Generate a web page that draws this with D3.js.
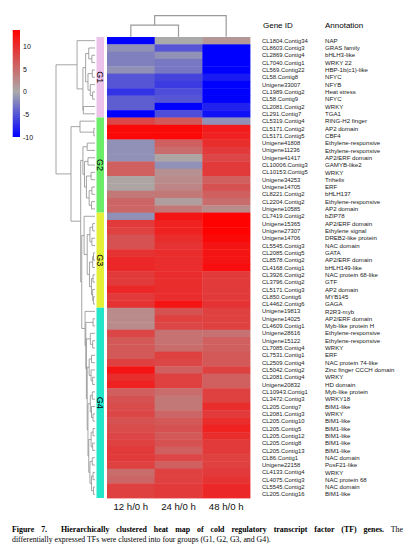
<!DOCTYPE html>
<html>
<head>
<meta charset="utf-8">
<script src="https://cdn.jsdelivr.net/npm/d3@7"></script>
<style>
  body { margin: 0; background: #fff; }
  svg text { font-family: "Liberation Sans", Arial, sans-serif; }
  .caption text { font-family: "Liberation Serif", "Times New Roman", serif; }
</style>
</head>
<body>
<div class="canvas"></div>
<script>
// ---- data ----
const geneIds = [
  "CL1804.Contig34","CL8603.Contig3","CL2869.Contig4","CL7040.Contig1","CL569.Contig22","CL58.Contig8",
  "Unigene33007","CL1989.Contig2","CL58.Contig9","CL2081.Contig2","CL291.Contig7",
  "CL5319.Contig4","CL5171.Contig2","CL5171.Contig5","Unigene41808","Unigene11236","Unigene41417",
  "CL10006.Contig3","CL10153.Contig5","Unigene34253","Unigene14705","CL8221.Contig2","CL2204.Contig2",
  "Unigene10585",
  "CL7419.Contig2","Unigene15365","Unigene27307","Unigene14706","CL5545.Contig3","CL2085.Contig5",
  "CL8578.Contig2","CL4168.Contig1","CL3926.Contig2","CL3796.Contig2","CL5171.Contig3","CL850.Contig6",
  "CL4462.Contig6",
  "Unigene19813","Unigene14025","CL4609.Contig1","Unigene28616","Unigene15122","CL7085.Contig4",
  "CL7531.Contig1","CL2509.Contig4","CL5042.Contig2","CL2081.Contig4","Unigene20832","CL10943.Contig1",
  "CL3472.Contig3","CL205.Contig7","CL2081.Contig3","CL205.Contig10","CL205.Contig5","CL205.Contig12",
  "CL205.Contig8","CL205.Contig13","CL86.Contig1","Unigene22158","CL4133.Contig4","CL4075.Contig3",
  "CL5545.Contig2","CL205.Contig16"
]
const annotations = [
  "NAP","GRAS family","bHLH3-like","WRKY 22","HBP-1b(c1)-like","NFYC",
  "NFYB","Heat stress","NFYC","WRKY","TGA1",
  "RING-H2 finger","AP2 domain","CBF4","Ethylene-responsive","Ethylene-responsive","AP2/ERF domain",
  "GAMYB-like2","WRKY","Trihelix","ERF","bHLH137","Ethylene-responsive",
  "AP2 domain",
  "bZIP78","AP2/ERF domain","Ethylene signal","DREB2-like protein","NAC domain","GATA",
  "AP2/ERF domain","bHLH149-like","NAC protein 68-like","GTF","AP2 domain","MYB145",
  "GAGA",
  "R2R3-myb","AP2/ERF domain","Myb-like protein H","Ethylene-responsive","Ethylene-responsive","WRKY",
  "ERF","NAC protein 74-like","Zinc finger CCCH domain","WRKY","HD domain","Myb-like protein",
  "WRKY18","BIM1-like","WRKY","BIM1-like","BIM1-like","BIM1-like",
  "BIM1-like","BIM1-like","NAC domain","PosF21-like","WRKY","NAC protein 68",
  "NAC domain","BIM1-like"
]
const v12 = [
  -10,-1.5,-2.5,-2.5,-1.5,-5,-5,-7,-4.5,-4.5,-10,
  8,13,13,-1.5,-1.5,-1.5,6,6,0.5,0.5,4,5.5,5.5,
  -1.5,9,8.5,7,7,9.5,10.5,10.5,9,9,10.5,9,9.5,
  2.5,2.5,2.5,8,6.5,6.5,6.5,8.5,12,10,11,6,7,7.5,8,7,7.5,8,8.5,9,9,8.5,5,5.5,8.5,8.5
]
const v24 = [
  0,-5,-1.5,-3,-3,-6,-6.5,-5.5,-5,-10,-5.5,
  6.5,13,13,6,5,0.5,-1.5,2,2.5,3,4,1,4,
  12,11,11,10,9.5,10,10,10,10,10,10,10,12,
  7,8.5,8,4.5,4.5,5,8.5,8,6,8.5,8.5,5,4,4,5.5,6.5,7,6.5,7,6,8,6,8.5,8.5,9,9
]
const v48 = [
  1.5,-10,-10,-10,-10,-8.5,-10,-10,-10,-8,-9,
  -1.5,11.5,11,10,9,8,9,9,6,7,6,5,2.5,
  13.5,13.5,13.5,13,12,12,12,12.5,9,9,9,9,9.5,
  8.5,8.5,8.5,4.5,6,6,6.5,6.5,8.5,6,6,8.5,8.5,10,9,10,11,10,9,9,8.5,8.5,9,9.5,10.5,10.5
]
const colLabels = ["12 h/0 h","24 h/0 h","48 h/0 h"]
const groupNames = ["G1","G2","G3","G4"]
const groupSizes = [11,13,13,26]
const legendTicks = [-10,-5,0,5,10]

// clustering trees: node(height, ...children), numbers are row / column indices
const node = (h, ...c) => ({ h, children: c.map(d => typeof d === "number" ? { i: d } : d) })
const treeG1 = node(4.6, 0, node(3.1,
  node(2.4, node(1.6, 1, node(0.8, 2, 3)), node(1.8, node(0.7, 4, 5), node(1.2, 6, node(0.6, 7, 8)))),
  node(3.0, 9, 10)))
const treeG2a = node(3.85, 11, node(0.3, 12, 13))
const treeG2b = node(3.1, node(2.0, 14, 15),
  node(2.7, node(1.8, 16, 17), node(2.2, node(1.0, 18, 19), node(1.5, node(0.8, 20, 21), node(0.9, 22, 23)))))
const treeG3 = node(2.8, 24, node(2.0,
  node(1.3, node(0.6, 25, 26), node(0.8, 27, 28)),
  node(1.4, node(0.6, node(0.4, 29, 30), 31), node(0.9, node(0.5, 32, 33), node(0.6, 34, node(0.4, 35, 36))))))
const treeG4 = node(2.55, 37, node(2.35, node(0.5, 38, 39), node(2.2,
  node(1.2, 40, node(0.6, 41, 42)),
  node(2.0,
    node(1.5, node(0.9, 43, 44), node(1.0, 45, node(0.6, 46, 47))),
    node(1.8,
      node(1.2, node(0.7, 48, 49), node(0.9, 50, node(0.5, 51, 52))),
      node(1.6,
        node(1.0, node(0.5, 53, 54), node(0.6, 55, 56)),
        node(1.3, node(0.7, 57, 58), node(0.9, node(0.5, 59, 60), node(0.4, 61, 62)))))))))
const rowTree = node(10, treeG1, node(6.15, treeG2a, node(3.67, treeG2b, node(3.4, treeG3, treeG4))))
const colTree = node(1, node(0.55, 0, 1), 2)

// ---- chart ----
const dim = { width: 413, height: 547 }
const svg = d3.select(".canvas").append("svg").attr("width", dim.width).attr("height", dim.height)
svg.append("rect").attr("width", dim.width).attr("height", dim.height).attr("fill", "#fff")

const rows = d3.range(geneIds.length)
const y = d3.scaleBand().domain(rows).range([37, 498])
const x = d3.scaleBand().domain(colLabels).range([107, 250])
const color = d3.scaleLinear().domain([-10, 0, 13.6]).range(["#0000ff", "#aaaaaa", "#ff0000"])

const series = [v12, v24, v48]
const cells = []
series.forEach((vals, c) => vals.forEach((v, r) => cells.push({ r, col: colLabels[c], v })))

svg.append("g").selectAll("rect").data(cells).enter().append("rect")
  .attr("x", d => x(d.col))
  .attr("y", d => y(d.r))
  .attr("width", x.bandwidth() + 0.4)
  .attr("height", y.bandwidth() + 0.4)
  .attr("fill", d => color(d.v))

// group side bar
const groupColors = ["#edc2ea", "#6ced6a", "#e4ef38", "#22e5c9"]
let start = 0
const groups = groupNames.map((g, i) => {
  const d = { name: g, from: start, to: start + groupSizes[i] - 1, color: groupColors[i] }
  start += groupSizes[i]
  return d
})
const gBar = svg.append("g")
gBar.selectAll("rect").data(groups).enter().append("rect")
  .attr("x", 96.5).attr("width", 7.5)
  .attr("y", d => y(d.from))
  .attr("height", d => y(d.to) + y.bandwidth() - y(d.from))
  .attr("fill", d => d.color)
gBar.selectAll("text").data(groups).enter().append("text")
  .attr("transform", d => `translate(100.3,${(y(d.from) + y(d.to) + y.bandwidth()) / 2}) rotate(90)`)
  .attr("text-anchor", "middle").attr("dy", "0.35em")
  .style("font-size", "9px").attr("fill", "#000")
  .text(d => d.name)

// row dendrogram
const hx = d3.scaleLinear().domain([0, 10]).range([95, 56])
const rowRoot = d3.hierarchy(rowTree)
rowRoot.eachAfter(d => {
  if (d.children) {
    d.py = (d.children[0].py + d.children[1].py) / 2
    d.px = hx(d.data.h)
  } else {
    d.py = y(d.data.i) + y.bandwidth() / 2
    d.px = hx(0)
  }
})
svg.append("g").selectAll("path").data(rowRoot.descendants().filter(d => d.children)).enter().append("path")
  .attr("d", d => {
    const [a, b] = d.children
    return `M${a.px},${a.py}H${d.px}V${b.py}H${b.px}`
  })
  .attr("fill", "none").attr("stroke", "#8e8e8e").attr("stroke-width", 0.8)

// column dendrogram
const hy = d3.scaleLinear().domain([0, 1]).range([36.7, 15.7])
const colRoot = d3.hierarchy(colTree)
colRoot.eachAfter(d => {
  if (d.children) {
    d.px = (d.children[0].px + d.children[1].px) / 2
    d.py = hy(d.data.h)
  } else {
    d.px = x(colLabels[d.data.i]) + x.bandwidth() / 2
    d.py = hy(0)
  }
})
svg.append("g").selectAll("path").data(colRoot.descendants().filter(d => d.children)).enter().append("path")
  .attr("d", d => {
    const [a, b] = d.children
    return `M${a.px},${a.py}V${d.py}H${b.px}V${b.py}`
  })
  .attr("fill", "none").attr("stroke", "#9a9a9a").attr("stroke-width", 1.2)

// column labels
svg.append("g").selectAll("text").data(colLabels).enter().append("text")
  .attr("x", d => x(d) + x.bandwidth() / 2).attr("y", 510)
  .attr("text-anchor", "middle").style("font-size", "9.6px").attr("fill", "#111")
  .text(d => d)

// gene id + annotation columns
svg.append("text").attr("x", 263).attr("y", 27.5).style("font-size", "8px").text("Gene ID")
svg.append("text").attr("x", 325).attr("y", 27.5).style("font-size", "8px").text("Annotation")
svg.append("g").selectAll("text").data(rows).enter().append("text")
  .attr("x", 262).attr("y", d => y(d) + y.bandwidth() / 2).attr("dy", "0.35em")
  .style("font-size", "5.9px").attr("fill", "#222")
  .text(d => geneIds[d])
svg.append("g").selectAll("text").data(rows).enter().append("text")
  .attr("x", 325).attr("y", d => y(d) + y.bandwidth() / 2).attr("dy", "0.35em")
  .style("font-size", "6.1px").attr("fill", "#222")
  .text(d => annotations[d])

// colour key
const legendScale = d3.scaleLinear().domain([-10, 13.6]).range([137, 30])
const defs = svg.append("defs")
const grad = defs.append("linearGradient").attr("id", "key").attr("x1", 0).attr("y1", 1).attr("x2", 0).attr("y2", 0)
color.domain().forEach(v => {
  grad.append("stop")
    .attr("offset", (v - (-10)) / (13.6 - (-10)))
    .attr("stop-color", color(v))
})
svg.append("rect").attr("x", 12.7).attr("y", 30).attr("width", 7.3).attr("height", 107).attr("fill", "url(#key)")
const keyAxis = svg.append("g").attr("transform", "translate(20,0)")
  .call(d3.axisRight(legendScale).tickValues(legendTicks).tickSize(0).tickPadding(3).tickFormat(d => String(d)))
keyAxis.select(".domain").remove()
keyAxis.selectAll("text").style("font-size", "7px").style("font-family", '"Liberation Sans", Arial, sans-serif').attr("fill", "#111")

// caption (first line justified to the column width)
const cap = svg.append("g").attr("class", "caption")
const line1 = cap.append("text").attr("x", 12).attr("y", 531.5).style("font-size", "7.9px").attr("fill", "#000")
line1.append("tspan").style("font-weight", "bold")
  .text("Figure 7.\u00a0\u00a0Hierarchically clustered heat map of cold regulatory transcript factor (TF) genes.")
line1.append("tspan").text(" The")
const natural = line1.node().getComputedTextLength()
const gaps = (line1.text().match(/[ \u00a0]/g) || []).length
line1.style("word-spacing", `${Math.max(0, (391 - natural) / gaps)}px`)
cap.append("text").attr("x", 12).attr("y", 541.8).style("font-size", "7.8px").attr("fill", "#000")
  .text("differentially expressed TFs were clustered into four groups (G1, G2, G3, and G4).")
</script>
</body>
</html>
